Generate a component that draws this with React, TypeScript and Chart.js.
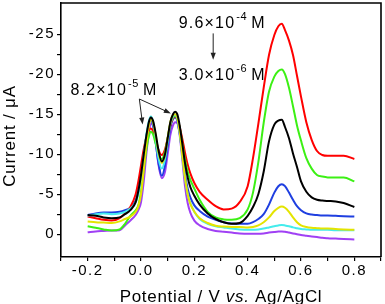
import React, { useEffect, useRef } from "react";
import { Chart, registerables } from "chart.js";

Chart.register(...registerables);

const FONT = "'Liberation Sans', Arial, sans-serif";

// Potential (V vs. Ag/AgCl)
const potential = [
  -0.2, -0.17, -0.14, -0.11, -0.08, -0.06, -0.04, -0.02, -0.01,
  0.0, 0.01, 0.02, 0.03, 0.037, 0.045, 0.055, 0.065, 0.078,
  0.09, 0.1, 0.11, 0.12, 0.128, 0.136, 0.145, 0.155, 0.165, 0.175, 0.185,
  0.2, 0.22, 0.25, 0.28, 0.31, 0.34, 0.37, 0.4,
  0.42, 0.44, 0.46, 0.48, 0.5, 0.515, 0.528, 0.54, 0.555, 0.57, 0.585,
  0.6, 0.62, 0.64, 0.66, 0.68, 0.7, 0.73, 0.76, 0.8,
];

// Current (µA) for each concentration
const redCurve = [
  -2.2, -2.0, -1.8, -1.7, -2.0, -2.6, -3.4, -5.0, -6.6,
  -8.6, -10.6, -12.1, -13.0, -13.2, -12.9, -11.9, -10.6, -9.9,
  -10.6, -12.0, -13.6, -14.5, -14.7, -14.4, -13.4, -11.9, -10.2, -8.7, -7.6,
  -6.4, -5.3, -4.3, -3.5, -3.1, -3.2, -4.0, -6.0,
  -9.5, -13.8, -18.3, -22.4, -24.9, -26.0, -26.3, -25.5, -24.2, -22.4, -19.8,
  -17.2, -14.0, -11.8, -10.4, -9.9, -9.8, -9.8, -9.8, -9.4,
];
const greenCurve = [
  -1.0, -0.8, -0.6, -0.45, -0.6, -1.3, -2.3, -3.0, -3.6,
  -5.3, -8.0, -10.6, -12.3, -12.8, -12.5, -11.3, -10.0, -9.4,
  -10.3, -12.0, -13.8, -14.6, -14.8, -14.5, -13.3, -11.3, -9.3, -7.8, -6.8,
  -5.7, -4.3, -2.8, -2.1, -1.85, -1.8, -2.0, -3.1,
  -5.2, -9.0, -13.9, -17.8, -19.7, -20.4, -20.6, -20.0, -18.3, -16.0, -13.6,
  -11.7, -9.5, -8.2, -7.4, -7.2, -7.1, -7.1, -7.1, -6.6,
];
const blackCurve = [
  -2.4, -2.3, -2.1, -2.0, -2.1, -2.5, -3.0, -4.0, -5.4,
  -7.4, -9.9, -12.3, -14.1, -14.6, -14.2, -12.6, -10.6, -9.1,
  -10.0, -12.0, -14.0, -15.0, -15.3, -15.0, -13.6, -11.3, -8.9, -7.1, -5.9,
  -4.8, -3.7, -2.6, -1.9, -1.5, -1.3, -1.4, -2.3,
  -3.4, -5.0, -7.8, -11.6, -13.7, -14.2, -14.3, -13.4, -12.0, -10.1, -8.4,
  -6.6, -5.3, -4.6, -4.3, -4.2, -4.15, -4.1, -3.9, -3.4,
];
const blueCurve = [
  -2.4, -2.6, -2.7, -2.7, -2.8, -3.0, -3.3, -4.2, -5.4,
  -7.3, -9.8, -12.2, -13.8, -14.2, -13.6, -11.5, -9.0, -7.3,
  -8.6, -11.0, -13.3, -14.4, -14.6, -14.2, -12.6, -10.0, -7.5, -5.7, -4.6,
  -3.6, -2.9, -2.2, -1.8, -1.5, -1.35, -1.3, -1.3,
  -1.5, -1.9, -2.5, -3.7, -5.2, -6.0, -6.25, -6.0, -5.2, -4.3, -3.5,
  -3.0, -2.6, -2.45, -2.4, -2.35, -2.35, -2.3, -2.25, -2.2,
];
const yellowCurve = [
  -1.6, -1.5, -1.45, -1.4, -1.6, -1.9, -2.2, -2.8, -3.5,
  -5.0, -8.0, -11.2, -13.6, -14.4, -14.0, -12.4, -10.3, -8.9,
  -9.9, -12.0, -14.0, -14.9, -15.0, -14.6, -12.8, -9.8, -7.0, -5.0, -3.8,
  -2.8, -2.0, -1.4, -1.05, -0.95, -0.9, -0.9, -0.85,
  -0.9, -1.1, -1.5, -2.1, -2.9, -3.3, -3.45, -3.3, -2.8, -2.1, -1.5,
  -1.1, -0.9, -0.8, -0.75, -0.7, -0.7, -0.65, -0.6, -0.55,
];
const cyanCurve = [
  -2.3, -2.5, -2.6, -2.5, -2.6, -2.8, -3.2, -4.0, -5.0,
  -7.0, -9.8, -12.4, -14.2, -14.7, -14.1, -12.0, -9.6, -8.2,
  -9.4, -11.6, -13.8, -14.7, -14.9, -14.4, -12.7, -9.8, -7.0, -5.0, -3.9,
  -2.8, -1.9, -1.3, -1.0, -0.85, -0.7, -0.6, -0.55,
  -0.55, -0.6, -0.7, -0.85, -1.0, -1.1, -1.15, -1.1, -1.0, -0.85, -0.75,
  -0.65, -0.6, -0.55, -0.55, -0.55, -0.55, -0.5, -0.5, -0.5,
];
const purpleCurve = [
  -0.25, -0.35, -0.4, -0.45, -0.5, -1.1, -1.7, -2.4, -3.0,
  -4.0, -6.5, -10.0, -12.8, -13.8, -13.6, -11.6, -8.8, -7.0,
  -7.8, -10.0, -12.4, -13.6, -14.0, -13.9, -12.4, -9.3, -6.0, -3.9, -2.7,
  -1.7, -1.1, -0.65, -0.4, -0.3, -0.2, -0.1, -0.05,
  -0.05, -0.05, -0.1, -0.2, -0.28, -0.33, -0.35, -0.3, -0.2, -0.1, 0.0,
  0.1, 0.2, 0.3, 0.35, 0.45, 0.5, 0.55, 0.6, 0.65,
];

// drawn top-first
const seriesNames = ["black", "yellow", "cyan", "green", "red", "blue", "purple"];
const seriesColors = ["#000000", "#e4e400", "#44ecec", "#3cf014", "#ff0000", "#1f3fe0", "#a040f4"];
const seriesValues = [blackCurve, yellowCurve, cyanCurve, greenCurve, redCurve, blueCurve, purpleCurve];

// axis ranges / ticks
const xMin = -0.3, xMax = 0.9, xStep = 0.1;
const yMin = -28.9, yMax = 2.85, yStep = 2.5;

// annotation anchors in data units
const highLabel = { x: 0.1413, y: -25.75, base: "9.6×10", sup: "-4" };
const lowLabel = { x: 0.1413, y: -19.29, base: "3.0×10", sup: "-6" };
const peakLabel = { x: -0.2645, y: -17.4, base: "8.2×10", sup: "-5" };
const downArrow = { x1: 0.2707, y1: -25.1, x2: 0.2707, y2: -21.8 };
const peakArrows = [
  { x1: -0.0062, y1: -16.9, x2: 0.0061, y2: -13.7 },
  { x1: -0.0062, y1: -16.9, x2: 0.112, y2: -15.1 },
];

const onStep = (v: number, step: number) => Math.abs(v / step - Math.round(v / step)) < 1e-6;

function drawArrow(ctx: CanvasRenderingContext2D, x1: number, y1: number, x2: number, y2: number) {
  const ang = Math.atan2(y2 - y1, x2 - x1);
  const L = 7, W = 2.6;
  ctx.beginPath();
  ctx.moveTo(x1, y1);
  ctx.lineTo(x2 - Math.cos(ang) * L * 0.8, y2 - Math.sin(ang) * L * 0.8);
  ctx.stroke();
  ctx.beginPath();
  ctx.moveTo(x2, y2);
  ctx.lineTo(x2 - Math.cos(ang) * L - Math.sin(ang) * W, y2 - Math.sin(ang) * L + Math.cos(ang) * W);
  ctx.lineTo(x2 - Math.cos(ang) * L + Math.sin(ang) * W, y2 - Math.sin(ang) * L - Math.cos(ang) * W);
  ctx.closePath();
  ctx.fill();
}

function drawConc(ctx: any, x: number, y: number, base: string, sup: string) {
  ctx.textAlign = "left";
  ctx.textBaseline = "alphabetic";
  ctx.font = `16px ${FONT}`;
  ctx.letterSpacing = "1.2px";
  ctx.fillText(base, x, y);
  const w = ctx.measureText(base).width;
  ctx.font = `11px ${FONT}`;
  ctx.letterSpacing = "0.6px";
  ctx.fillText(sup, x + w + 1, y - 8);
  const w2 = ctx.measureText(sup).width;
  ctx.font = `16px ${FONT}`;
  ctx.letterSpacing = "1.2px";
  ctx.fillText("M", x + w + 1 + w2 + 4, y);
}

const overlay = {
  id: "overlay",
  beforeDraw(chart: any) {
    chart.ctx.letterSpacing = "1.5px";
  },
  afterDraw(chart: any) {
    const { ctx, chartArea: a, scales } = chart;
    const xs = scales.x, ys = scales.y;
    const px = (v: number) => xs.getPixelForValue(v);
    const py = (v: number) => ys.getPixelForValue(v);
    ctx.save();
    // top & right frame
    ctx.strokeStyle = "#000";
    ctx.lineWidth = 1.6;
    ctx.beginPath();
    ctx.moveTo(a.left, a.top);
    ctx.lineTo(a.right, a.top);
    ctx.lineTo(a.right, a.bottom);
    ctx.stroke();

    ctx.fillStyle = "#000";
    // x title
    const partA = "Potential / V ", partB = "vs.", partC = " Ag/AgCl";
    ctx.letterSpacing = "0.7px";
    ctx.textBaseline = "alphabetic";
    ctx.textAlign = "left";
    ctx.font = `17px ${FONT}`;
    const wA = ctx.measureText(partA).width;
    const wC = ctx.measureText(partC).width;
    ctx.font = `italic 17px ${FONT}`;
    const wB = ctx.measureText(partB).width;
    const total = wA + wB + wC;
    let tx = (a.left + a.right) / 2 - total / 2;
    const ty = a.bottom + 44.5;
    ctx.font = `17px ${FONT}`;
    ctx.fillText(partA, tx, ty);
    tx += wA;
    ctx.font = `italic 17px ${FONT}`;
    ctx.fillText(partB, tx, ty);
    tx += wB;
    ctx.font = `17px ${FONT}`;
    ctx.fillText(partC, tx, ty);

    // y title
    ctx.save();
    ctx.translate(15.3, (a.top + a.bottom) / 2 + 6);
    ctx.rotate(-Math.PI / 2);
    ctx.textAlign = "center";
    ctx.letterSpacing = "0.8px";
    ctx.font = `17px ${FONT}`;
    ctx.fillText("Current / μA", 0, 0);
    ctx.restore();

    // annotations
    drawConc(ctx, px(highLabel.x), py(highLabel.y), highLabel.base, highLabel.sup);
    drawConc(ctx, px(lowLabel.x), py(lowLabel.y), lowLabel.base, lowLabel.sup);
    drawConc(ctx, px(peakLabel.x), py(peakLabel.y), peakLabel.base, peakLabel.sup);

    ctx.strokeStyle = "#222";
    ctx.fillStyle = "#222";
    ctx.lineWidth = 1;
    drawArrow(ctx, px(downArrow.x1), py(downArrow.y1), px(downArrow.x2), py(downArrow.y2));
    for (const ar of peakArrows) {
      drawArrow(ctx, px(ar.x1), py(ar.y1), px(ar.x2), py(ar.y2));
    }
    ctx.restore();
    ctx.letterSpacing = "0px";
  },
};

export default function App() {
  const canvasRef = useRef<HTMLCanvasElement | null>(null);

  useEffect(() => {
    if (!canvasRef.current) return;
    const datasets = seriesValues.map((vals, i) => ({
      label: seriesNames[i],
      data: potential.map((x, j) => ({ x, y: vals[j] })),
      borderColor: seriesColors[i],
      backgroundColor: seriesColors[i],
      borderWidth: 2,
      pointRadius: 0,
      fill: false,
      cubicInterpolationMode: "monotone" as const,
    }));
    const chart = new Chart(canvasRef.current, {
      type: "line",
      data: { datasets },
      options: {
        animation: false,
        responsive: true,
        maintainAspectRatio: false,
        devicePixelRatio: 1,
        layout: { padding: { top: 3, right: 4, left: 0, bottom: 0 } },
        plugins: { legend: { display: false }, tooltip: { enabled: false } },
        scales: {
          x: {
            type: "linear",
            min: xMin,
            max: xMax,
            afterBuildTicks: (s: any) => {
              s.ticks = s.ticks.filter((t: any) => onStep(t.value, xStep));
            },
            afterFit: (s: any) => {
              s.height = 47;
              s.paddingLeft = 0;
              s.paddingRight = 0;
            },
            ticks: {
              stepSize: xStep,
              autoSkip: false,
              maxRotation: 0,
              padding: 1,
              color: "#000",
              font: { family: FONT, size: 15 },
              callback: (v: any) => {
                const n = Number(v);
                const k = Math.round(n * 10);
                if (k % 2 !== 0) return "";
                if (Math.abs(n) < 1e-9) return "0.0";
                return n.toFixed(1);
              },
            },
            grid: { drawOnChartArea: false, drawTicks: true, tickLength: 4, color: "#000", lineWidth: 1.2 },
            border: { display: true, color: "#000", width: 1.6 },
          },
          y: {
            type: "linear",
            min: yMin,
            max: yMax,
            reverse: true,
            afterBuildTicks: (s: any) => {
              s.ticks = s.ticks.filter((t: any) => onStep(t.value, yStep));
            },
            afterFit: (s: any) => {
              s.width = 61;
              s.paddingTop = 0;
              s.paddingBottom = 0;
            },
            ticks: {
              stepSize: yStep,
              autoSkip: false,
              padding: 2,
              color: "#000",
              font: { family: FONT, size: 15 },
              callback: (v: any) => {
                const n = Number(v);
                if (!onStep(n, 5)) return "";
                return String(Math.round(n));
              },
            },
            grid: { drawOnChartArea: false, drawTicks: true, tickLength: 4, color: "#000", lineWidth: 1.2 },
            border: { display: true, color: "#000", width: 1.6 },
          },
        },
      },
      plugins: [overlay],
    });
    return () => chart.destroy();
  }, []);

  return (
    <div style={{ position: "absolute", left: 0, top: 0, width: 385, height: 304, background: "#fff" }}>
      <canvas ref={canvasRef} />
    </div>
  );
}
